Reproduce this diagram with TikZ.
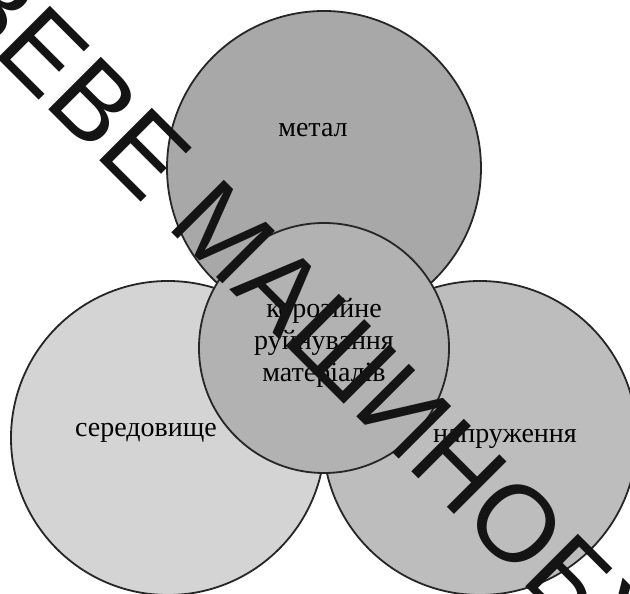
\documentclass[tikz,border=0pt]{standalone}
\usepackage{fontspec}
\setmainfont{Liberation Serif}
\newfontfamily\wmfont{Liberation Sans}
\usepackage{tikz}
\usetikzlibrary{shapes.geometric, arrows}
\usetikzlibrary{positioning}
\definecolor{metalGray}{HTML}{A8A8A8}
\definecolor{mediumGray}{HTML}{D4D4D4}
\definecolor{stressGray}{HTML}{BDBDBD}
\definecolor{coreGray}{HTML}{B2B2B2}
\tikzstyle{ring} = [circle, draw=black!85, line width=1.8pt, minimum size=314pt, inner sep=0pt]
\tikzstyle{coreRing} = [ring, minimum size=250pt]
\tikzstyle{txt} = [inner sep=0pt, align=center, font=\fontsize{28}{32}\selectfont]
\tikzstyle{wmText} = [rotate=-45, inner sep=0pt, text=black!92, font=\wmfont\fontsize{108}{108}\selectfont]

\begin{document}
\begin{tikzpicture}[node distance=180pt]
                                \useasboundingbox (-324pt,-246pt) rectangle (306pt,348pt);
                                \clip (-324pt,-246pt) rectangle (306pt,348pt);
                                \fill [white] (-324pt,-246pt) rectangle (306pt,348pt);
                                \coordinate (c) at (0,0);
                                \node (1) [ring, fill=metalGray, above of = c] {};
                                \node (2) [ring, fill=mediumGray, below of = c, xshift=-156pt, yshift=90pt] {};
                                \node (3) [ring, fill=stressGray, below of = c, xshift=156pt, yshift=90pt] {};
                                \node (0) [coreRing, fill=coreGray] at (c) {};
                                \node (t1) [txt] at ([xshift=-11pt, yshift=38pt]1) {метал};
                                \node (t2) [txt] at ([xshift=-22pt, yshift=5pt]2) {середовище};
                                \node (t3) [txt] at ([xshift=25pt, yshift=-1pt]3) {напруження};
                                \node (t0) [txt] at ([yshift=5pt]0) {корозійне\\руйнування\\матеріалів};
                                % watermark across the figure
                                \node (wm) [wmText] at ([xshift=-19pt, yshift=35pt]0) {ВЕВЕ МАШИНОБУ};
                            \end{tikzpicture}
\end{document}
